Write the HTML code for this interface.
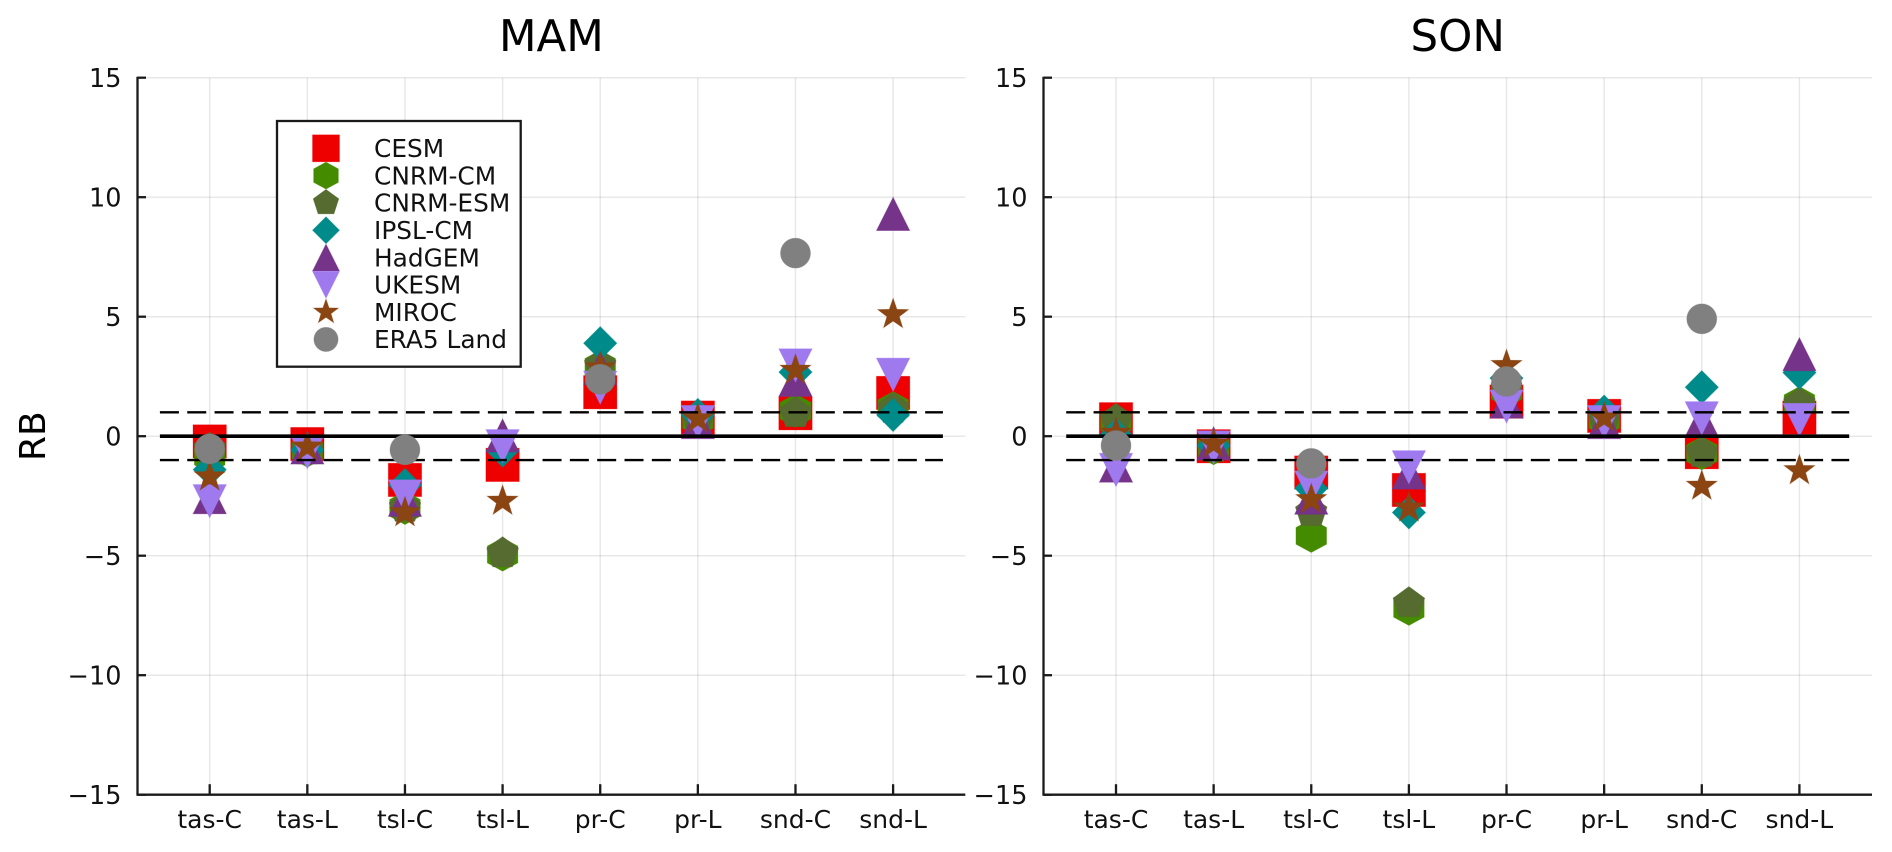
<!DOCTYPE html>
<html lang="en">
<head>
<meta charset="utf-8">
<title>RB by variable: MAM and SON</title>
<style>
  html, body { margin: 0; padding: 0; background: #ffffff; }
  body { width: 1892px; height: 852px; overflow: hidden; }
  svg { display: block; font-family: "DejaVu Sans", "Liberation Sans", sans-serif; }
</style>
</head>
<body>
<svg id="chart" xmlns="http://www.w3.org/2000/svg" width="1892" height="852" viewBox="0 0 1892 852"></svg>
<script>
// ---- Data ----
const categories = ["tas-C", "tas-L", "tsl-C", "tsl-L", "pr-C", "pr-L", "snd-C", "snd-L"];
const yTickValues = [-15, -10, -5, 0, 5, 10, 15];
const yTickLabels = ["\u221215", "\u221210", "\u22125", "0", "5", "10", "15"];
const seriesNames = ["CESM", "CNRM-CM", "CNRM-ESM", "IPSL-CM", "HadGEM", "UKESM", "MIROC", "ERA5 Land"];
const panelTitles = ["MAM", "SON"];
const yAxisTitle = "RB";
const referenceDashed = [1, -1];
const referenceSolid = [0];

const mamCESM    = [-0.22, -0.33, -1.83, -1.20, 1.84, 0.78, 0.96, 1.81];
const mamCNRMCM  = [-0.85, -0.60, -3.00, -4.95, 2.90, 0.68, 1.07, 1.17];
const mamCNRMESM = [-0.53, -0.60, -3.00, -4.90, 2.95, 0.68, 0.96, 1.14];
const mamIPSL    = [-1.40, -0.57, -2.04, -0.60, 3.89, 0.89, 2.68, 0.89];
const mamHadGEM  = [-2.55, -0.47, -2.66, 0.03, 2.85, 0.59, 2.36, 9.30];
const mamUKESM   = [-2.72, -0.67, -2.52, -0.42, 2.03, 0.59, 2.96, 2.57];
const mamMIROC   = [-1.70, -0.45, -3.20, -2.72, 2.86, 0.73, 2.76, 5.09];
const mamERA5    = [-0.53, null, -0.57, null, 2.38, null, 7.66, null];

const sonCESM    = [0.71, -0.42, -1.52, -2.25, 1.45, 0.85, -0.67, 0.78];
const sonCNRMCM  = [0.60, -0.50, -4.17, -7.22, 1.90, 0.68, -0.71, 1.38];
const sonCNRMESM = [0.68, -0.50, -3.18, -6.99, 1.90, 0.68, -0.71, 1.35];
const sonIPSL    = [0.05, -0.40, -2.18, -3.19, 2.43, 1.03, 2.05, 2.66];
const sonHadGEM  = [-1.23, -0.30, -2.57, -1.52, 1.45, 0.59, 0.68, 3.43];
const sonUKESM   = [-1.41, -0.47, -2.15, -1.30, 1.24, 0.59, 0.75, 0.68];
const sonMIROC   = [0.13, -0.32, -2.65, -3.00, 2.96, 0.77, -2.09, -1.44];
const sonERA5    = [-0.39, null, -1.14, null, 2.29, null, 4.91, null];

const mamSeries = [mamCESM, mamCNRMCM, mamCNRMESM, mamIPSL, mamHadGEM, mamUKESM, mamMIROC, mamERA5];
const sonSeries = [sonCESM, sonCNRMCM, sonCNRMESM, sonIPSL, sonHadGEM, sonUKESM, sonMIROC, sonERA5];

// ---- Style ----
const markerKinds = ["square", "hexagon", "pentagon", "diamond", "triangle", "invtriangle", "star", "circle"];
const markerColors = ["#ee0000", "#458b00", "#556b2f", "#008b8b", "#75338a", "#9f79ee", "#8b4513", "#808080"];

const SVG_NS = "http://www.w3.org/2000/svg";
const root = document.getElementById("chart");

function make(tag, attrs, parent) {
  const el = document.createElementNS(SVG_NS, tag);
  for (const k in attrs) el.setAttribute(k, attrs[k]);
  parent.appendChild(el);
  return el;
}

function polyPoints(cx, cy, pts) {
  return pts.map(function (p) { return (cx + p[0]).toFixed(2) + "," + (cy + p[1]).toFixed(2); }).join(" ");
}

function regular(n, r, xScale) {
  const pts = [];
  for (let i = 0; i < n; i++) {
    const a = -Math.PI / 2 + i * 2 * Math.PI / n;
    pts.push([Math.cos(a) * r * xScale, Math.sin(a) * r]);
  }
  return pts;
}

function starPts(r) {
  const pts = [];
  for (let i = 0; i < 10; i++) {
    const a = -Math.PI / 2 + i * Math.PI / 5;
    const q = i % 2 === 0 ? r : r * 0.4;
    pts.push([Math.cos(a) * q, Math.sin(a) * q]);
  }
  return pts;
}

function drawMarker(kind, color, cx, cy, s, parent) {
  const common = { fill: color, stroke: color, "stroke-opacity": 0.35, "stroke-width": 0.8 };
  const attrs = Object.assign({}, common);
  if (kind === "square") {
    attrs.x = cx - s; attrs.y = cy - s; attrs.width = 2 * s; attrs.height = 2 * s;
    return make("rect", attrs, parent);
  }
  if (kind === "circle") {
    attrs.cx = cx; attrs.cy = cy; attrs.r = s * 0.9;
    return make("circle", attrs, parent);
  }
  let pts;
  if (kind === "hexagon") pts = regular(6, s, 1.06);
  else if (kind === "pentagon") pts = regular(5, s, 1);
  else if (kind === "diamond") pts = regular(4, s, 1);
  else if (kind === "triangle") pts = [[0, -s], [s, s], [-s, s]];
  else if (kind === "invtriangle") pts = [[0, s], [s, -s], [-s, -s]];
  else pts = starPts(s * 0.98);
  attrs.points = polyPoints(cx, cy, pts);
  return make("polygon", attrs, parent);
}

// ---- Axis geometry ----
const plotTop = 77.7;
const plotBottom = 794.7;
const yMin = -15;
const yMax = 15;
function yScale(v) { return plotBottom - (v - yMin) / (yMax - yMin) * (plotBottom - plotTop); }

function drawPanel(key, title, series, left, right, firstX, showYTitle) {
  const step = 97.63;
  function xScale(i) { return firstX + i * step; }

  const panel = make("g", {}, root);
  
  

  const grid = make("g", { stroke: "#000", "stroke-opacity": 0.09, "stroke-width": 1.5 }, panel);
  
  
  yTickValues.forEach(function (v) {
    make("line", { x1: left, x2: right, y1: yScale(v), y2: yScale(v) }, grid);
  });
  categories.forEach(function (c, i) {
    make("line", { x1: xScale(i), x2: xScale(i), y1: plotTop, y2: plotBottom }, grid);
  });

  const axes = make("g", { stroke: "#1a1a1a", "stroke-width": 2.3, fill: "none" }, panel);
  
  
  make("line", { x1: left, x2: left, y1: plotTop - 1, y2: plotBottom + 1 }, axes);
  make("line", { x1: left, x2: right, y1: plotBottom, y2: plotBottom }, axes);
  yTickValues.forEach(function (v) {
    make("line", { x1: left, x2: left + 8.5, y1: yScale(v), y2: yScale(v) }, axes);
  });
  categories.forEach(function (c, i) {
    make("line", { x1: xScale(i), x2: xScale(i), y1: plotBottom, y2: plotBottom - 10.5 }, axes);
  });

  yTickLabels.forEach(function (label, i) {
    const t = make("text", { x: left - 16, y: yScale(yTickValues[i]) + 9.2, "text-anchor": "end", "font-size": 25.5, fill: "#111" }, panel);
    t.textContent = label;
    
    
  });
  categories.forEach(function (c, i) {
    const t = make("text", { x: xScale(i), y: 828, "text-anchor": "middle", "font-size": 25, fill: "#111" }, panel);
    t.textContent = c;
    
    
  });

  const titleEl = make("text", { x: (left + right) / 2, y: 51, "text-anchor": "middle", "font-size": 43.5, fill: "#000" }, panel);
  titleEl.textContent = title;
  
  

  if (showYTitle) {
    const yt = make("text", { x: 0, y: 0, "text-anchor": "middle", "font-size": 36, fill: "#000",
      transform: "translate(45 " + yScale(0) + ") rotate(-90)" }, panel);
    yt.textContent = yAxisTitle;
    
    
  }

  const size = 16.7;
  function drawSeries(idx) {
    const g = make("g", {}, panel);
    
    
    series[idx].forEach(function (v, i) {
      if (v === null) return;
      const m = drawMarker(markerKinds[idx], markerColors[idx], xScale(i), yScale(v), size, g);
      
      
    });
  }

  for (let idx = 0; idx < 7; idx++) drawSeries(idx);

  const lineStart = xScale(0) - step * 0.51;
  const lineEnd = xScale(categories.length - 1) + step * 0.51;
  referenceDashed.forEach(function (v) {
    const l = make("line", { x1: lineStart, x2: lineEnd, y1: yScale(v), y2: yScale(v), stroke: "#000", "stroke-width": 2.4, "stroke-dasharray": "19 8.33" }, panel);
    
    
  });
  referenceSolid.forEach(function (v) {
    const l = make("line", { x1: lineStart, x2: lineEnd, y1: yScale(v), y2: yScale(v), stroke: "#000", "stroke-width": 3.6 }, panel);
    
    
  });

  drawSeries(7);
}

function drawLegend() {
  const g = make("g", {}, root);
  
  
  const box = make("rect", { x: 277, y: 121, width: 243.7, height: 245.7, fill: "#fff", stroke: "#1a1a1a", "stroke-width": 2.3 }, g);
  
  
  seriesNames.forEach(function (name, i) {
    const rowY = 148.3 + i * 27.3;
    const entry = make("g", {}, g);
    
    
    const m = drawMarker(markerKinds[i], markerColors[i], 326, rowY, 13.5, entry);
    
    
    const t = make("text", { x: 374, y: rowY + 8.8, "font-size": 24.8, fill: "#111" }, entry);
    t.textContent = name;
    
    
  });
}

drawPanel("mam", panelTitles[0], mamSeries, 137.5, 965.3, 209.7, true);
drawPanel("son", panelTitles[1], sonSeries, 1043.5, 1872, 1116, false);
drawLegend();
</script>
</body>
</html>
